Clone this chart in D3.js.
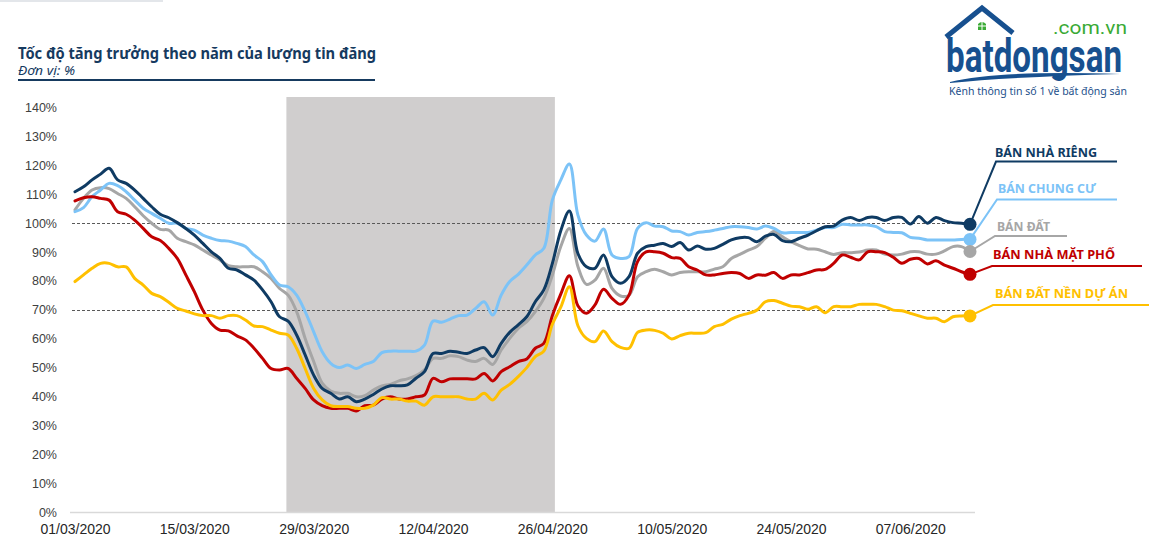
<!DOCTYPE html>
<html><head><meta charset="utf-8">
<script src="https://cdn.jsdelivr.net/npm/d3@7"></script>
<style>body{margin:0;background:#fff;} svg{display:block;}</style>
</head><body><svg id="c" width="1149" height="559"></svg>
<script>
// ---------- DATA ----------
const startDateLabel = "01/03/2020";
const xTickLabels = ["01/03/2020","15/03/2020","29/03/2020","12/04/2020","26/04/2020","10/05/2020","24/05/2020","07/06/2020"];
const yTicks = [0,10,20,30,40,50,60,70,80,90,100,110,120,130,140];
const refLines = [100, 70];
const shadeFromDay = 24.8, shadeToDay = 56.3, shadeTopValue = 143.7; // lockdown period (day index from 01/03)

const seriesNames = ["BÁN NHÀ RIÊNG","BÁN CHUNG CƯ","BÁN ĐẤT","BÁN NHÀ MẶT PHỐ","BÁN ĐẤT NỀN DỰ ÁN"];

const banNhaRieng = [110.9,112.6,115,117,119,115,113.8,111.5,108.6,105.7,103.1,101.9,100.2,98.2,95.9,93,90.1,87.8,84.4,83.8,82.1,80.3,76.9,72.8,67.6,66.1,61.3,54.4,47.4,42.8,41.1,39.1,39.9,38.2,39.1,40.7,42.6,43.7,43.7,44,46.3,48.6,54.9,54.9,55.7,55.3,54.9,56.1,56.9,53.8,58.4,62.2,64.8,67.6,72.8,76.9,86,97.5,104.2,89.5,84.9,84.4,89,81.5,79.2,81.5,89.6,91.9,92.4,93,91.9,93.3,90.7,92.1,91,91.3,92.7,94.2,95,95,93.6,95.5,96.1,94,93.6,94.8,95.9,97.4,98.8,99,101.1,102,100.9,102,102,100.9,102,102,99.7,102.3,100,102,100.9,100.2,100,99.6];

const banChungCu = [104,105.4,109.2,111.5,113.8,113,110.9,108,105.2,103.4,101.7,100,100,98.2,97.6,95.9,94.8,94,93.8,93,91.9,89,86.7,82.1,78.6,78,75.1,69.4,62.4,55.5,51.5,50,50.9,49.7,51.1,52.1,55.2,55.7,55.7,55.7,55.7,57.8,66.1,65.7,66.8,68,68.2,70.5,72.8,68.2,75.1,79.8,82.3,85.5,89,91.3,108,115,120.5,102.8,95.9,93.8,98,89,87.8,88.4,98.2,100.2,99,98.8,97.3,97.1,95.9,96.8,97.1,97.6,98.2,98.8,98.8,98.5,98,99,98.2,96.7,96.8,96.8,96.8,97.6,98.5,98.5,99.6,99.4,99.4,99.4,98.8,97.1,96.8,96.7,95.1,94.8,94.2,94.2,94.2,94.2,94.4,94.4];

const banDat = [104.6,108.6,111.5,112.3,112,110.3,108.6,105.7,102.6,100,97.9,97.6,94.8,93.6,92.5,90.7,89,87.3,85.3,84.9,84.9,84.9,83.2,80.9,77.4,75.1,69.4,60.1,52.1,44.6,41.9,41.1,41.1,39.9,40.3,42.2,43.7,44.2,45.4,46.1,47.2,49.2,53.2,53.2,54.1,53.8,52.6,52.1,53.2,51.1,56.1,60.1,63.6,65.9,69.4,74,82,92,98.2,85,78.8,80.3,84.4,77.4,74.8,75.1,81.5,83.2,84.1,83.2,82.1,82.9,83.2,83.2,83.2,84.1,84.9,87.8,89.2,90.7,91.9,94.8,97.1,95.3,93.6,92.2,91.1,91,90.1,89.2,89.8,89.8,90,90.7,90.7,89.3,89,89.3,90.1,90.1,89.3,89.3,90.4,91.9,91.9,90.2];

const banNhaMatPho = [107.7,108.8,109.2,108.6,108,104,103.1,101.1,98.2,95.3,94,91.3,87.8,82.1,76.3,69.9,65.3,63,62.7,61,59.6,56.7,53.2,49.7,49.2,49.7,46.3,42.8,38.8,36.8,35.9,35.9,35.9,35,36.8,37,39.1,39.9,39.1,39.1,39.9,40.5,46.3,45.1,46.1,46.1,46.1,46.1,48,45.4,48.6,50.3,52.1,53,56.7,58.4,68,75.5,81.8,71.4,68.8,71.7,77.1,74,71.9,75.1,86.7,90.1,90.1,89.6,88.1,87.8,84.9,83.8,82.1,82.1,82.6,82.9,82.6,80.9,82.1,82,82.9,80.9,82.1,82.1,82.9,83.8,84,86.1,89,88.2,87.3,90.1,90.1,89.8,88.2,86.1,87.5,87.8,85.9,87,85.5,84.4,83.2,82.3];

const banDatNenDuAn = [79.8,82.1,84.4,86.1,86.1,84.9,84.9,80.9,78.6,75.7,74.6,72.6,70.5,69.6,68.6,68,68,67.1,68,68,66.5,64.4,64.2,63,61.9,61.3,56.7,49.7,42.8,38.8,36.8,36.5,36.5,35.9,35.9,37,39.6,39.1,39.1,38.4,38.4,37,39.9,39.9,39.9,39.9,39.1,39.1,41.1,38.8,42.2,44.2,46.9,50,53.8,55.7,65,71,78,64.5,60.1,59,62.7,59,57,56.7,62.2,63,62.9,61.9,59.9,61.1,61.9,61.9,62.1,64.2,65,66.8,68,68.8,69.9,72.8,73.2,72.3,71.3,71.1,70.2,71.1,69,71.1,71.1,71.1,71.9,71.9,71.9,71.1,69.9,69.7,68.8,67.9,67.1,67.1,65.9,67.6,67.9,67.9];

// ---------- STYLE / LAYOUT ----------
const colors = ["#0f3b63","#7cc3f7","#a6a6a6","#c00000","#ffc000"];
const drawOrder = [2,1,0,3,4];
// label layout: text x, baseline y, leader elbow x, leader y, line end x, text width
const labelLayout = [
  {tx:995, ty:157, ex:996, ey:161.5, lx2:1117, w:102},
  {tx:998, ty:193, ex:997, ey:199.5, lx2:1117, w:98},
  {tx:997, ty:231, ex:995, ey:236, lx2:1067, w:53},
  {tx:993, ty:259, ex:992, ey:266, lx2:1142, w:122},
  {tx:995, ty:298, ex:993, ey:305, lx2:1149, w:133}
];

const svg = d3.select("#c");
const parse = d3.timeParse("%d/%m/%Y");
const start = parse(startDateLabel);
const seriesData = [banNhaRieng, banChungCu, banDat, banNhaMatPho, banDatNenDuAn];
const nDays = banNhaRieng.length;

const x = d3.scaleLinear().domain([0, nDays-1]).range([75, 970]);
const y = d3.scaleLinear().domain([0, 140]).range([512, 107.7]);

// faint top bar
svg.append("rect").attr("x",0).attr("y",0).attr("width",163).attr("height",2).attr("fill","#e3e6ea");

// Title
svg.append("text").attr("x",18).attr("y",59)
  .attr("font-family","'Noto Sans', 'Open Sans', sans-serif").attr("font-weight",700).attr("font-size",16.5)
  .attr("fill","#163a5f").attr("textLength",358).attr("lengthAdjust","spacingAndGlyphs")
  .text("Tốc độ tăng trưởng theo năm của lượng tin đăng");
svg.append("text").attr("x",18).attr("y",75)
  .attr("font-family","'Noto Sans', 'Open Sans', sans-serif").attr("font-style","italic").attr("font-size",12.5)
  .attr("fill","#163a5f").attr("textLength",57).attr("lengthAdjust","spacingAndGlyphs")
  .text("Đơn vị: %");
svg.append("rect").attr("x",18).attr("y",79).attr("width",357).attr("height",2).attr("fill","#163a5f");

// shaded period
svg.append("rect")
  .attr("x", x(shadeFromDay)).attr("y", y(shadeTopValue))
  .attr("width", x(shadeToDay)-x(shadeFromDay)).attr("height", y(0)-y(shadeTopValue))
  .attr("fill","#d0cece");

// Y axis labels
const yAxis = d3.axisLeft(y).tickValues(yTicks).tickSize(0).tickPadding(0).tickFormat(d => d + "%");
const gy = svg.append("g").attr("transform","translate(57,0)").call(yAxis);
gy.select(".domain").remove();
gy.selectAll("text").attr("font-family","'Liberation Sans', Arial, sans-serif").attr("font-size",12.5).attr("fill","#404040");

// X axis baseline
svg.append("line").attr("x1", x(0)-5).attr("x2", x(nDays-1)+5).attr("y1", y(0)+0.5).attr("y2", y(0)+0.5)
  .attr("stroke","#d9d9d9").attr("stroke-width",1.5);
const tickIdx = xTickLabels.map(l => d3.timeDay.count(start, parse(l)));
const xAxis = d3.axisBottom(x).tickValues(tickIdx).tickSize(0).tickPadding(0)
  .tickFormat((d,i) => xTickLabels[i]);
const gx = svg.append("g").attr("transform",`translate(0,${y(0)+12})`).call(xAxis);
gx.select(".domain").remove();
gx.selectAll("text").attr("font-family","'Liberation Sans', Arial, sans-serif").attr("font-size",14).attr("fill","#262626");

// reference dashed lines
svg.selectAll(".ref").data(refLines).enter().append("line")
  .attr("x1", x(0)-3).attr("x2", x(nDays-1)+2)
  .attr("y1", d => Math.round(y(d))+0.5).attr("y2", d => Math.round(y(d))+0.5)
  .attr("stroke","#595959").attr("stroke-width",1).attr("stroke-dasharray","3,2");

// lines
const line = d3.line().x((d,i) => x(i)).y(d => y(d)).curve(d3.curveCatmullRom.alpha(0.5));
drawOrder.forEach(k => {
  svg.append("path").datum(seriesData[k]).attr("d", line)
    .attr("fill","none").attr("stroke", colors[k]).attr("stroke-width",3)
    .attr("stroke-linejoin","round").attr("stroke-linecap","round");
});

// end dots, leaders and labels
seriesData.forEach((s,k) => {
  const L = labelLayout[k];
  const cx = x(nDays-1), cy = y(s[nDays-1]);
  svg.append("polyline")
    .attr("points", `${cx},${cy} ${L.ex},${L.ey} ${L.lx2},${L.ey}`)
    .attr("fill","none").attr("stroke", colors[k]).attr("stroke-width",2);
  svg.append("circle").attr("cx",cx).attr("cy",cy).attr("r",6.5).attr("fill",colors[k]);
  svg.append("text").attr("x",L.tx).attr("y",L.ty)
    .attr("font-family","'Noto Sans', 'Open Sans', sans-serif").attr("font-weight",700).attr("font-size",13)
    .attr("fill",colors[k]).attr("textLength",L.w).attr("lengthAdjust","spacingAndGlyphs")
    .text(seriesNames[k]);
});

// ---------- Logo ----------
const logoBlue = "#17508f", logoGreen = "#3aaa35";
const logo = svg.append("g");
logo.append("polyline").attr("points","946,37 982,8 1013,33")
  .attr("fill","none").attr("stroke",logoBlue).attr("stroke-width",5).attr("stroke-linejoin","miter");
logo.append("path").attr("d","M978,30 L978,24 Q982,20 986,24 L986,30 Z").attr("fill",logoGreen);
logo.append("line").attr("x1",982).attr("x2",982).attr("y1",22).attr("y2",30).attr("stroke","#fff").attr("stroke-width",1);
logo.append("line").attr("x1",978).attr("x2",986).attr("y1",26).attr("y2",26).attr("stroke","#fff").attr("stroke-width",1);
logo.append("text").attr("x",946).attr("y",72)
  .attr("font-family","'Roboto', 'Liberation Sans', sans-serif").attr("font-weight",700).attr("font-size",47)
  .attr("fill",logoBlue).attr("textLength",176).attr("lengthAdjust","spacingAndGlyphs").text("batdongsan");
logo.append("text").attr("x",1053).attr("y",34)
  .attr("font-family","'Roboto', 'Liberation Sans', sans-serif").attr("font-size",19)
  .attr("fill",logoGreen).attr("textLength",74).attr("lengthAdjust","spacingAndGlyphs").text(".com.vn");
logo.append("path").attr("d","M950,82 Q1000,70 1120,74 Q1010,77 950,83 Z").attr("fill",logoBlue);
logo.append("text").attr("x",949).attr("y",95)
  .attr("font-family","'Noto Sans', 'Open Sans', sans-serif").attr("font-size",11)
  .attr("fill","#1d4f8b").attr("textLength",178).attr("lengthAdjust","spacingAndGlyphs")
  .text("Kênh thông tin số 1 về bất động sản");
</script></body></html>
